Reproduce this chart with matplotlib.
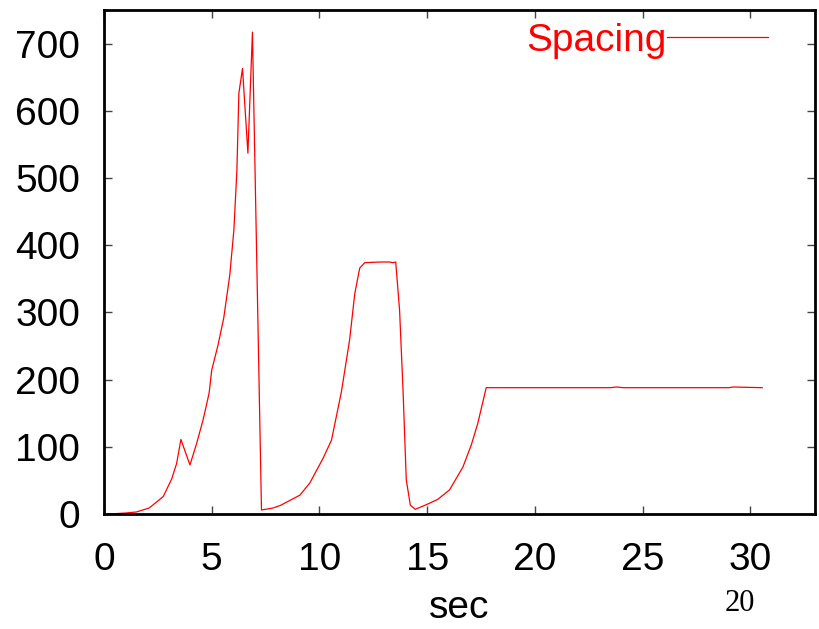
import matplotlib
matplotlib.use("Agg")
import matplotlib.pyplot as plt

# data (sec vs spacing)
t = [0, 0.5, 1.0, 1.5, 2.1, 2.75, 3.14, 3.37, 3.57, 3.99,
     4.3, 4.6, 4.88, 5.0, 5.29, 5.56, 5.84, 6.03, 6.17, 6.26,
     6.43, 6.68, 6.89, 7.31, 7.85, 8.2, 8.85, 9.09, 9.55, 10.17,
     10.56, 11.02, 11.4, 11.64, 11.87, 12.1, 12.8, 13.26, 13.41, 13.54,
     13.72, 13.88, 14.03, 14.22, 14.45, 15.04, 15.5, 16.04, 16.66, 17.05,
     17.35, 17.74, 20, 23.5, 23.8, 24.1, 29.0, 29.2, 30.55]
spacing = [0, 0.5, 1.5, 3, 9, 26, 52, 75, 111, 73,
           105, 140, 180, 214, 251, 292, 356, 423, 512, 626,
           663, 537, 717, 6, 9, 13, 24, 28, 46, 83,
           110, 182, 259, 328, 366, 374, 375, 375, 374, 375,
           303, 184, 51, 13, 7, 15, 22, 36, 70, 103,
           135, 188, 188, 188, 189, 188, 188, 189, 188]

xticks = [0, 5, 10, 15, 20, 25, 30]
yticks = [0, 100, 200, 300, 400, 500, 600, 700]

plt.rcParams['font.family'] = ['Liberation Sans', 'DejaVu Sans']

fig = plt.figure(figsize=(8.2, 6.29), dpi=100)
ax = fig.add_axes([0.1268, 0.1828, 0.9939 - 0.1268, 0.9841 - 0.1828])

ax.plot(t, spacing, color='red', linewidth=0.9, label='Spacing')

ax.set_xlim(0, 33)
ax.set_ylim(0, 750)
ax.set_xticks(xticks)
ax.set_yticks(yticks)
ax.tick_params(direction='in', length=6, width=1, colors='#444444',
               labelcolor='black', labelsize=28, top=True, right=True)
ax.tick_params(axis='x', pad=20)
ax.tick_params(axis='y', pad=17)
for s in ax.spines.values():
    s.set_linewidth(2)

ax.set_xlabel('sec', fontsize=28, labelpad=9)

leg = ax.legend(loc='upper right', frameon=False, markerfirst=False,
                fontsize=28, handlelength=2.6, handletextpad=0.0,
                labelcolor='red', borderaxespad=0.0,
                bbox_to_anchor=(0.956, 1.005))

fig.text(0.9025, 0.028, '20', fontsize=22, family='Liberation Serif', ha='center')

fig.savefig('out.png', dpi=100)
